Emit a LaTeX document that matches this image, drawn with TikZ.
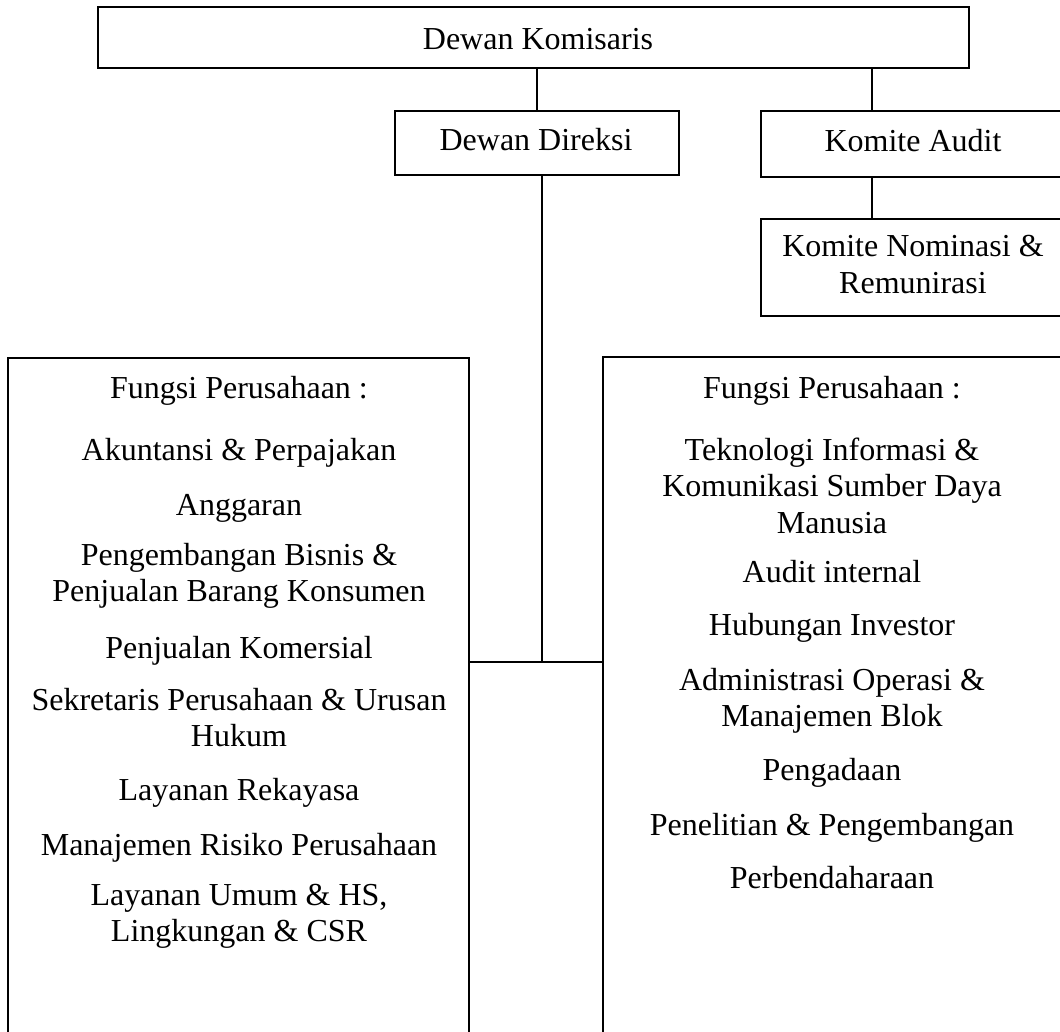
\documentclass[tikz,border=0pt]{standalone}
\usepackage{fontspec}
\setmainfont{Liberation Serif}
\begin{document}
\begin{tikzpicture}[x=1pt,y=-1pt,
  frame/.style={draw, line width=1.4pt, inner sep=0pt, outer sep=0pt, anchor=north west},
  txt/.style={font=\fontsize{32}{36.5}\selectfont, align=center, inner sep=0pt, anchor=base},
  link/.style={line width=1.4pt}]
\useasboundingbox (0,0) rectangle (1060,1032);
\clip (0,0) rectangle (1060,1032);

% frames
\node[frame, minimum width=871, minimum height=61] (komisaris) at (98,7) {};
\node[frame, minimum width=284, minimum height=64] (direksi) at (395,111) {};
\node[frame, minimum width=330, minimum height=66] (audit) at (761,111) {};
\node[frame, minimum width=330, minimum height=97] (nominasi) at (761,219) {};
\node[frame, minimum width=461, minimum height=720] (left) at (8,358) {};
\node[frame, minimum width=470, minimum height=720] (right) at (603,357) {};

% connection points of the committee branch
\coordinate (branch) at (872,0);

% labels of the upper boxes (base = baseline of the last line)
\node[txt] (tkomisaris) at (538,50) {Dewan Komisaris};
\node[txt] (tdireksi) at (536,151) {Dewan Direksi};
\node[txt] (taudit) at (913,152) {Komite Audit};
\node[txt] (tnominasi) at (913,293.5) {Komite Nominasi \&\\Remunirasi};

% left function list
\node[txt] (l1) at (239,398) {Fungsi Perusahaan :};
\node[txt] (l2) at (239,460) {Akuntansi \& Perpajakan};
\node[txt] (l3) at (239,515) {Anggaran};
\node[txt] (l4) at (239,601.5) {Pengembangan Bisnis \&\\Penjualan Barang Konsumen};
\node[txt] (l5) at (239,658) {Penjualan Komersial};
\node[txt] (l6) at (239,746.5) {Sekretaris Perusahaan \& Urusan\\Hukum};
\node[txt] (l7) at (239,800) {Layanan Rekayasa};
\node[txt] (l8) at (239,855) {Manajemen Risiko Perusahaan};
\node[txt] (l9) at (239,941.5) {Layanan Umum \& HS,\\Lingkungan \& CSR};

% right function list
\node[txt] (r1) at (832,398) {Fungsi Perusahaan :};
\node[txt] (r2) at (832,533) {Teknologi Informasi \&\\Komunikasi Sumber Daya\\Manusia};
\node[txt] (r3) at (832,582) {Audit internal};
\node[txt] (r4) at (832,635) {Hubungan Investor};
\node[txt] (r5) at (832,726.5) {Administrasi Operasi \&\\Manajemen Blok};
\node[txt] (r6) at (832,780) {Pengadaan};
\node[txt] (r7) at (832,835) {Penelitian \& Pengembangan};
\node[txt] (r8) at (832,888) {Perbendaharaan};

% connectors
\coordinate (junction) at (542,662);
\draw[link] (direksi.north) -- (direksi.north |- komisaris.south);
\draw[link] (branch |- komisaris.south) -- (branch |- audit.north);
\draw[link] (branch |- audit.south) -- (branch |- nominasi.north);
\draw[link] (junction |- direksi.south) -- (junction);
\draw[link] (left.east |- junction) -- (right.west |- junction);
\end{tikzpicture}
\end{document}
